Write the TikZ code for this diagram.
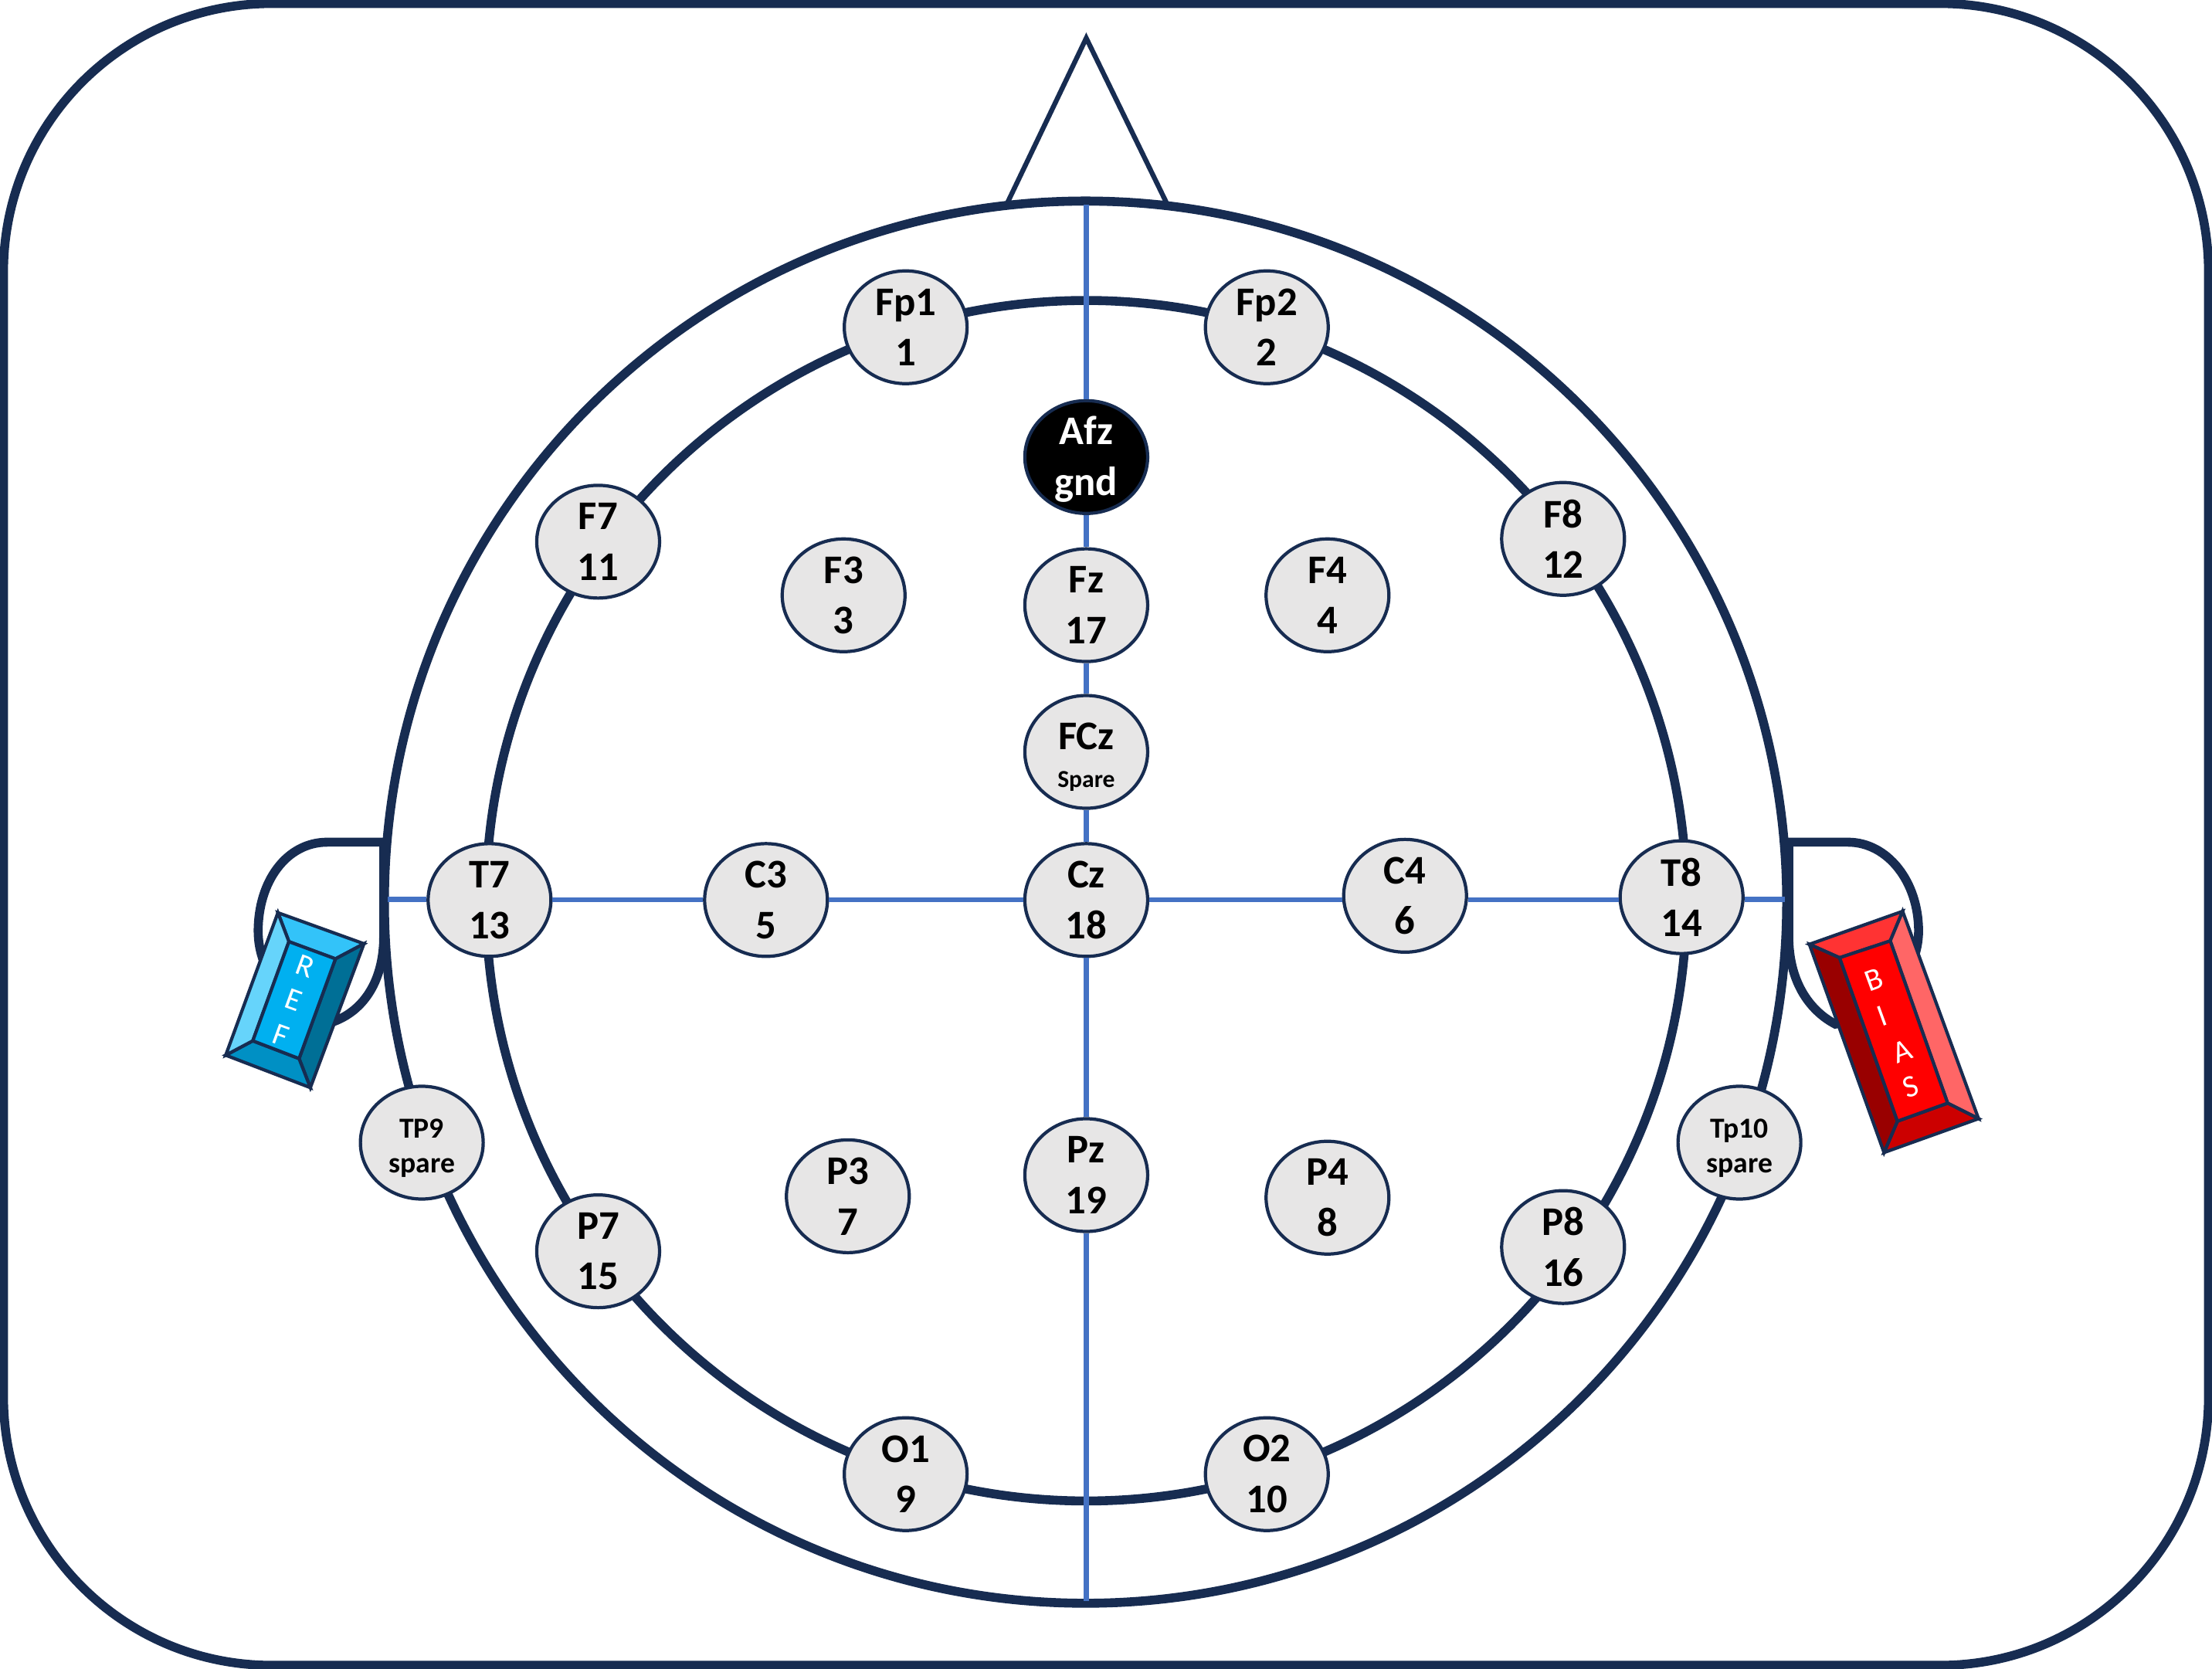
\documentclass[tikz,border=0pt]{standalone}
\usepackage{fontspec}
\setmainfont{Carlito}
\usetikzlibrary{shapes.geometric}
\definecolor{navy}{HTML}{172C51}
\definecolor{axisblue}{HTML}{4472C4}
\definecolor{padgray}{HTML}{E7E6E6}
\definecolor{refT}{HTML}{33C3F9}
\definecolor{refR}{HTML}{006F96}
\definecolor{refB}{HTML}{0090C4}
\definecolor{refL}{HTML}{66D4FB}
\definecolor{refC}{HTML}{00B0F0}
\definecolor{biasT}{HTML}{FF3333}
\definecolor{biasR}{HTML}{FF6666}
\definecolor{biasB}{HTML}{CC0000}
\definecolor{biasL}{HTML}{990000}
\definecolor{biasC}{HTML}{FF0000}
\newcommand{\toppad}[1]{\rule{0pt}{#1}}
\tikzset{
  headline/.style={draw=navy,line width=3.3pt},
  axisline/.style={draw=axisblue,line width=1.8pt},
  electrode/.style={ellipse,draw=navy,fill=padgray,line width=1.2pt,inner sep=0pt,
    minimum width=1.59cm,minimum height=1.46cm,align=center,text=black,
    font=\fontsize{15}{18.7}\selectfont\bfseries},
  smallpad/.style={electrode,font=\fontsize{10.7}{12.8}\selectfont\bfseries},
  groundpad/.style={electrode,fill=black,text=white,inner ysep=-2.6pt},
  face/.style={draw=navy,line width=1.2pt,line join=miter},
  plateletter/.style={text=white,inner sep=0pt,font=\fontsize{11.5}{13}\selectfont}
}
\begin{document}
\begin{tikzpicture}[x=0.018265cm,y=-0.018265cm]
\useasboundingbox (0,0) rectangle (1568,1183);
\fill[white] (0,0) rectangle (1568,1183);
\draw[headline,rounded corners=3.47cm] (2.5,2.5) rectangle (1565.5,1180.5);
% ears
\draw[headline] (272,597) -- (232,597) .. controls (203,597) and (183,625) .. (183,660)
  .. controls (183,690) and (205,717) .. (237,724) .. controls (258,716) and (272,695) .. (272,664) -- cycle;
\draw[headline] (1268,597) -- (1310,597) .. controls (1338,597) and (1360,625) .. (1360,660)
  .. controls (1360,690) and (1335,720) .. (1301,726) .. controls (1282,716) and (1268,695) .. (1268,664) -- cycle;
% head
\draw[headline] (769.5,639.5) circle [radius=497];
\draw[headline] (770,638.5) circle [radius=425.5];
\draw[draw=navy,line width=1.8pt,line join=miter] (714,144) -- (770,27) -- (827,144) -- cycle;
% REF plate
\coordinate (ra) at (197,647); \coordinate (rb) at (258,669);
\coordinate (rc) at (220,771); \coordinate (rd) at (160,748);
\coordinate (ia) at (204.8,667.5); \coordinate (ib) at (237.8,679.7);
\coordinate (ic) at (212,750.4); \coordinate (id) at (179.2,737.8);
\filldraw[face,fill=refT] (ra) -- (rb) -- (ib) -- (ia) -- cycle;
\filldraw[face,fill=refR] (rb) -- (rc) -- (ic) -- (ib) -- cycle;
\filldraw[face,fill=refB] (rc) -- (rd) -- (id) -- (ic) -- cycle;
\filldraw[face,fill=refL] (rd) -- (ra) -- (ia) -- (id) -- cycle;
\filldraw[face,fill=refC] (ia) -- (ib) -- (ic) -- (id) -- cycle;
\node[plateletter,rotate=-20] (refR) at (216.6,685) {R};
\node[plateletter,rotate=-20] (refE) at (208,709) {E};
\node[plateletter,rotate=-20] (refF) at (198.9,734) {F};
% BIAS plate
\coordinate (ba) at (1348.7,646); \coordinate (bb) at (1402.5,793);
\coordinate (bc) at (1335.5,817); \coordinate (bd) at (1282.6,669.4);
\coordinate (ja) at (1339.9,667); \coordinate (jb) at (1380.6,782);
\coordinate (jc) at (1345,794.8); \coordinate (jd) at (1304,678.9);
\filldraw[face,fill=biasT] (bd) -- (ba) -- (ja) -- (jd) -- cycle;
\filldraw[face,fill=biasR] (ba) -- (bb) -- (jb) -- (ja) -- cycle;
\filldraw[face,fill=biasB] (bb) -- (bc) -- (jc) -- (jb) -- cycle;
\filldraw[face,fill=biasL] (bc) -- (bd) -- (jd) -- (jc) -- cycle;
\filldraw[face,fill=biasC] (ja) -- (jb) -- (jc) -- (jd) -- cycle;
\node[plateletter,rotate=20] (biasB) at (1328.6,694.4) {B};
\node[plateletter,rotate=20] (biasI) at (1334.3,720) {I};
\node[plateletter,rotate=20] (biasA) at (1348.7,745.5) {A};
\node[plateletter,rotate=20] (biasS) at (1354.6,770.2) {S};
% electrodes
\node[electrode] (Fp1) at (642,232) {Fp1\\1};
\node[electrode] (Fp2) at (898,232) {Fp2\\2};
\node[groundpad] (Afz) at (770,324) {\toppad{12pt}Afz\\gnd};
\node[electrode] (F7) at (424,384) {F7\\11};
\node[electrode] (F3) at (598,422) {F3\\3};
\node[electrode] (Fz) at (770,429) {Fz\\17};
\node[electrode] (F4) at (941,422) {F4\\4};
\node[electrode] (F8) at (1108,382) {F8\\12};
\node[electrode] (FCz) at (770,533) {\toppad{13.6pt}FCz\\[-5pt]{\fontsize{9}{11}\selectfont Spare}};
\node[electrode] (T7) at (347,638) {T7\\13};
\node[electrode] (C3) at (543,638) {C3\\5};
\node[electrode] (Cz) at (770,638) {Cz\\18};
\node[electrode] (C4) at (996,635) {C4\\6};
\node[electrode] (T8) at (1192,636) {T8\\14};
\node[smallpad] (TP9) at (299,810) {\toppad{11.1pt}TP9\\spare};
\node[smallpad] (Tp10) at (1233,810) {\toppad{11.1pt}Tp10\\spare};
\node[electrode] (P3) at (601,848) {P3\\7};
\node[electrode] (Pz) at (770,833) {Pz\\19};
\node[electrode] (P4) at (941,849) {P4\\8};
\node[electrode] (P7) at (424,887) {P7\\15};
\node[electrode] (P8) at (1108,884) {P8\\16};
\node[electrode] (O1) at (642,1045) {O1\\9};
\node[electrode] (O2) at (898,1045) {O2\\10};
% axes
\coordinate (headtop) at (770,145);
\coordinate (headbottom) at (770,1135);
\coordinate (headwest) at (275,637.5);
\coordinate (headeast) at (1265,637.5);
\draw[axisline] (headtop) -- (Afz);
\draw[axisline] (Afz) -- (Fz);
\draw[axisline] (Fz) -- (FCz);
\draw[axisline] (FCz) -- (Cz);
\draw[axisline] (Cz) -- (Pz);
\draw[axisline] (Pz) -- (headbottom);
\draw[axisline] (headwest) -- (headwest -| T7.west);
\draw[axisline] (T7) -- (C3);
\draw[axisline] (C3) -- (Cz);
\draw[axisline] (Cz.east) -- (Cz.east -| C4.west);
\draw[axisline] (C4.east |- Cz.east) -- (Cz.east -| T8.west);
\draw[axisline] (T8.east |- headeast) -- (headeast);
\end{tikzpicture}
\end{document}
